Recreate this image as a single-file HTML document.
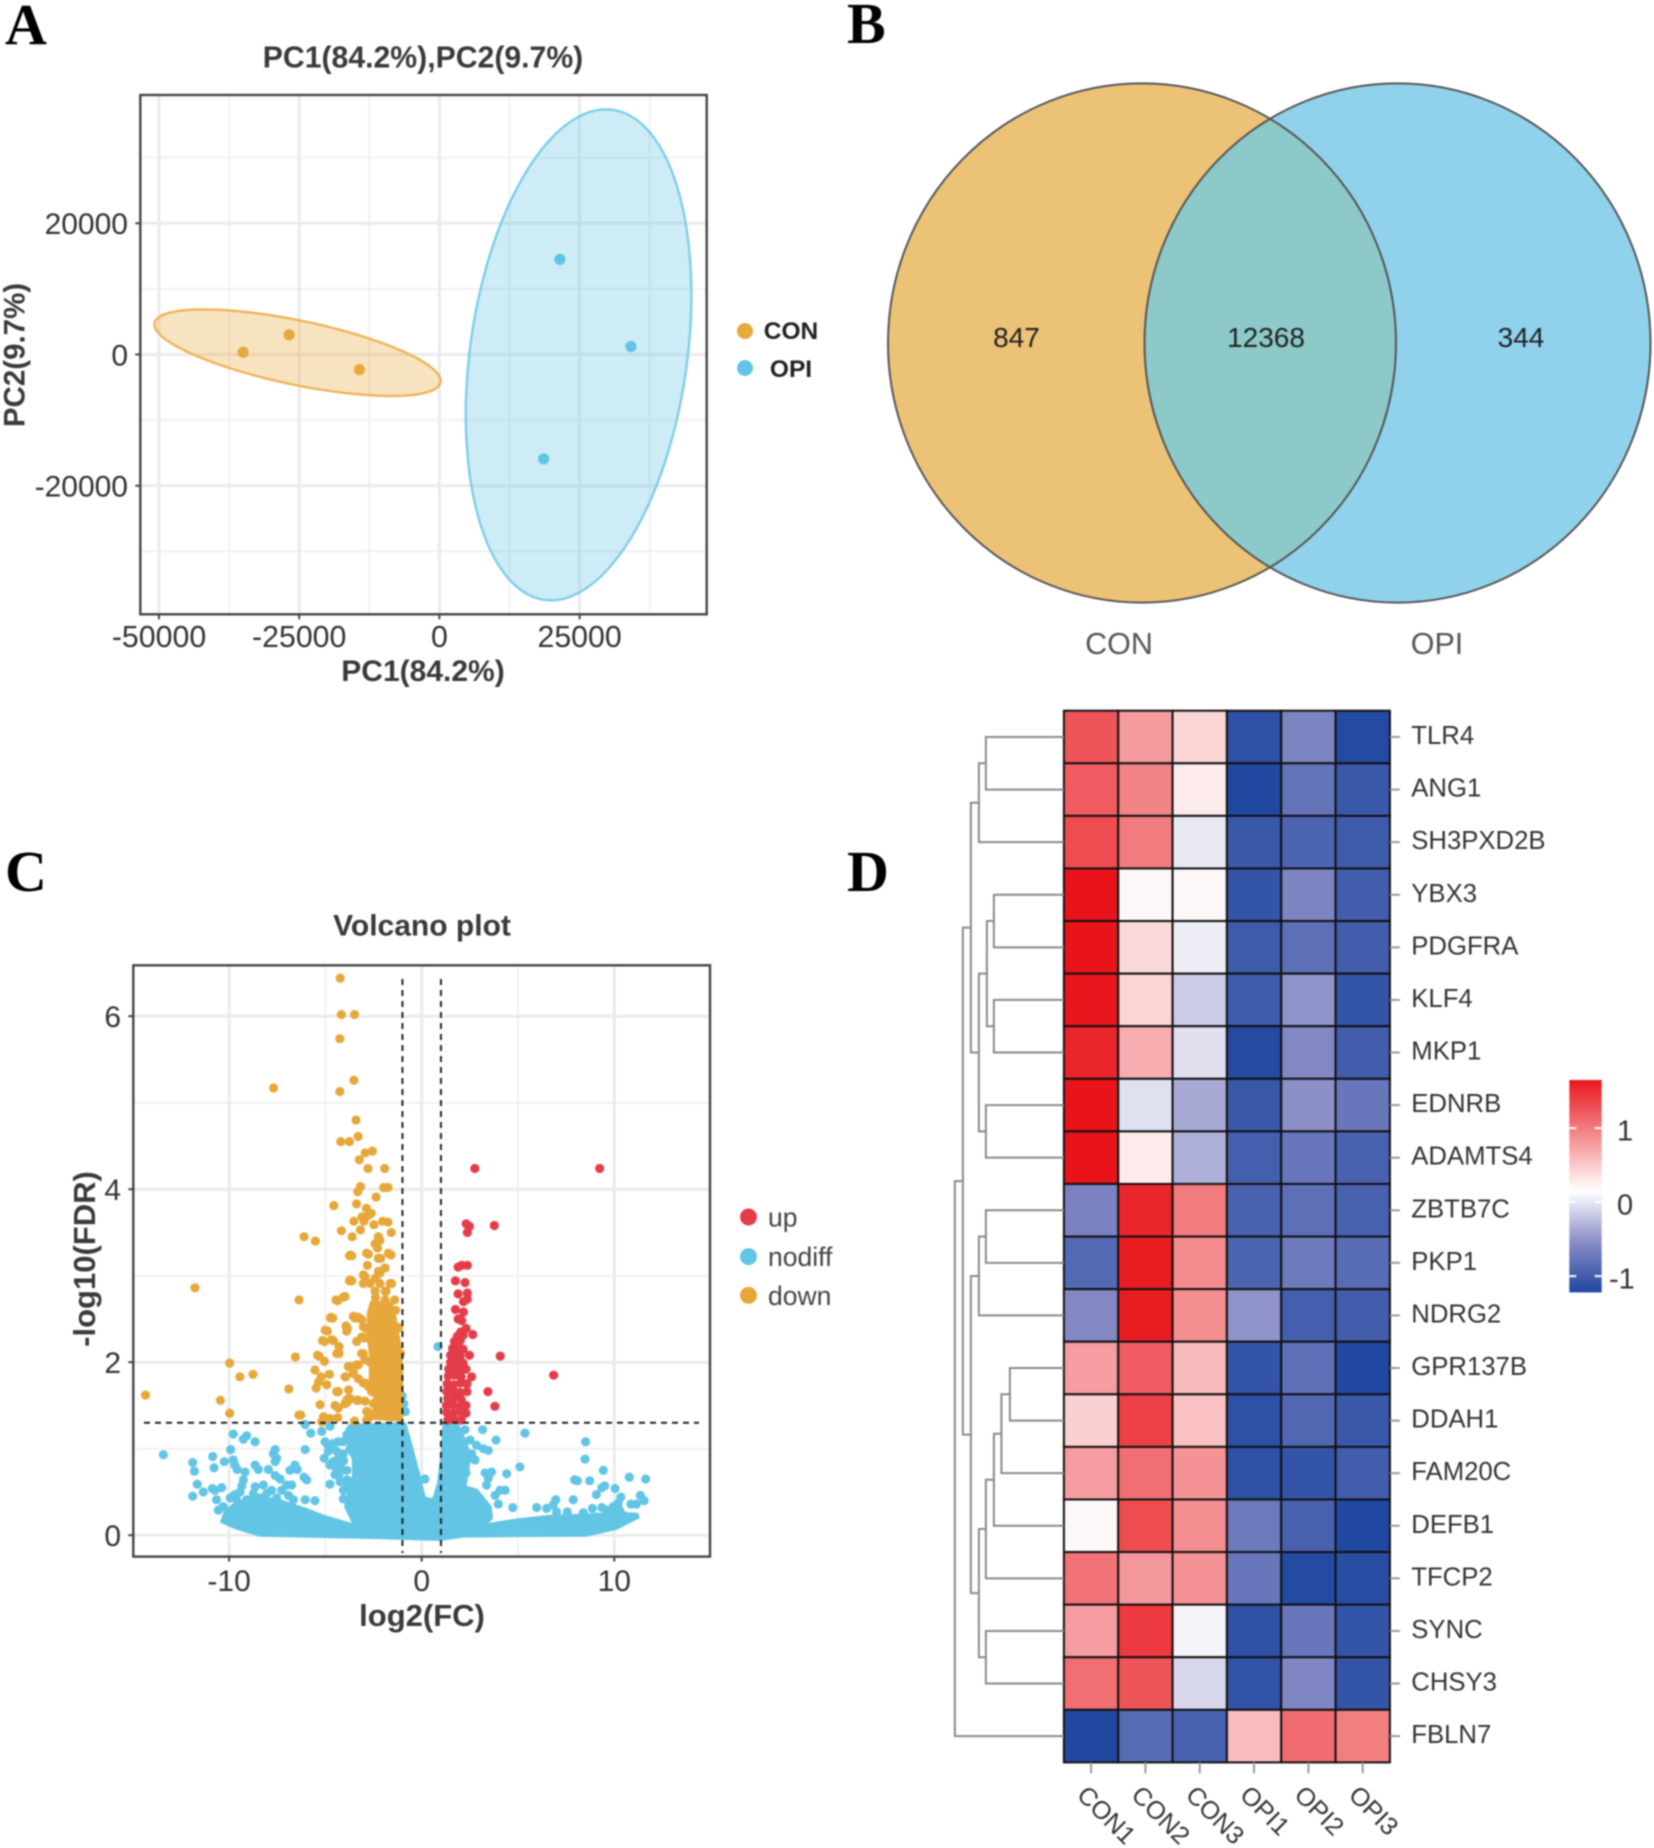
<!DOCTYPE html>
<html lang="en">
<head>
<meta charset="utf-8">
<title>Transcriptome figure: PCA, Venn, volcano, heatmap</title>
<style>
html,body{margin:0;padding:0;background:#fff;}
#figure{display:block;width:1654px;height:1848px;filter:blur(0.8px);font-family:"Liberation Sans",sans-serif;}
</style>
</head>
<body>
<svg id="figure" xmlns="http://www.w3.org/2000/svg" width="1654" height="1848" viewBox="0 0 1654 1848">
<rect x="0" y="0" width="1654" height="1848" fill="#fff"/>
<g font-family="'Liberation Serif',serif" font-weight="bold" font-size="58" fill="#000">
<text x="5" y="44">A</text>
<text x="847" y="43">B</text>
<text x="5" y="891">C</text>
<text x="847" y="891">D</text>
</g>
<g id="panel-pca"></g>
<g id="panel-venn">
<defs><clipPath id="venn-clip"><ellipse cx="1142" cy="343" rx="254" ry="259.6"/></clipPath></defs>
<ellipse cx="1142" cy="343" rx="254" ry="259.6" fill="#ECC277"/>
<ellipse cx="1397.5" cy="343" rx="253" ry="259.6" fill="#90D2EB"/>
<ellipse cx="1397.5" cy="343" rx="253" ry="259.6" fill="#8CC9C8" clip-path="url(#venn-clip)"/>
<ellipse cx="1142" cy="343" rx="254" ry="259.6" fill="none" stroke="#555" stroke-width="2"/>
<ellipse cx="1397.5" cy="343" rx="253" ry="259.6" fill="none" stroke="#555" stroke-width="2"/>
</g>
<g id="panel-volcano"></g>
<g id="panel-heatmap"></g>
</svg>
<script>
/* ---------- PCA data ---------- */
const pcaXTicks = [-50000, -25000, 0, 25000];
const pcaYTicks = [-20000, 0, 20000];
const pcaXMinor = [-37500, -12500, 12500, 37500];
const pcaYMinor = [-30000, -10000, 10000, 30000];
const pcaConPoints = [[-35000, 340], [-26800, 2990], [-14250, -2310]];
const pcaOpiPoints = [[21500, 14490], [34150, 1220], [18580, -15920]];
/* centre x, centre y, half-width, half-height, correlation */
const pcaConEllipse = [-25300, 274, 25535, 6598, -0.654];
const pcaOpiEllipse = [24820, -50, 20114, 37410, 0.244];

/* ---------- Venn data ---------- */
const vennCounts = ["847", "12368", "344"];
const vennSets = ["CON", "OPI"];

/* ---------- Volcano data ---------- */
const volXTicks = [-10, 0, 10];
const volYTicks = [0, 2, 4, 6];
const volXMinor = [-5, 5];
const volYMinor = [1, 3, 5];
const volFcCut = [-1, 1];
const volFdrCut = [1.3];
const nodiffCore = [[-10.39,.156],[-10.21,.27],[-9.6,.38],[-8.8,.42],[-7.6,.42],[-6.84,.36],[-5.89,.29],[-5.11,.22],[-3.72,.13],[-3.52,.13],[-3.95,.33],[-3.81,.48],[-4,.58],[-3.55,.67],[-3.55,.87],[-3.81,1.06],[-3.89,1.22],[-3.72,1.27],[-.87,1.29],[-.48,.98],[-.17,.72],[.14,.43],[.61,.41],[.87,.6],[1.07,.98],[1.16,1.29],[1.82,1.29],[2.25,1.1],[2.51,.91],[2.25,.56],[2.86,.52],[3.55,.33],[3.63,.2],[3.29,.118],[4.93,.176],[6.66,.22],[8.22,.23],[9.95,.25],[11.16,.245],[11.25,.21],[10.12,.08],[8.57,0],[2.16,-.01],[.95,-.05],[-2,-.03],[-8.4,0],[-9.6,.08]];
const downCore = [[-2.54,1.35],[-2.42,1.56],[-2.68,1.79],[-2.65,2.06],[-2.77,2.29],[-2.77,2.57],[-2.6,2.7],[-1.56,2.68],[-1.39,2.53],[-1.18,2.26],[-1.04,1.95],[-1.04,1.33]];
const nodiffPoints = [[.85,2.18],[-1.01,1.61],[-.93,1.52],[-.85,1.43],
[-9.78,1.17],[-9.26,1.11],[-9.09,1.15],[-8.65,1.08],[-9.92,.99],[-10.85,.91],[-10.25,.85],[-9.78,.87],[-9.7,.81],[-9.58,.76],[-10.78,.78],[-11.89,.84],[-11.8,.74],[-11.65,.59],[-11.34,.5],[-11.89,.45],[-10.87,.54],[-10.73,.52],[-10.38,.55],[-9.17,.73],[-9.26,.64],[-9.34,.57],[-9.43,.5],[-9.7,.47],[-9.95,.43],[-10.65,.41],[-10.3,.33],[-10.56,.29],[-8.65,.81],[-8.48,.76],[-7.96,.76],[-7.61,.99],[-7.7,.94],[-7.53,.89],[-7.61,.85],[-7.61,.69],[-7.35,.65],[-6.84,.75],[-6.58,.81],[-6.46,.76],[-6.11,.67],[-5.97,.64],[-7.01,.58],[-6.75,.58],[-8.65,.56],[-8.22,.58],[-7.79,.52],[-7.27,.52],[-8.05,.48],[-8.39,.43],[-8.74,.48],[-9.09,.41],[-9.61,.41],[-7.53,.43],[-6.92,.46],[-6.66,.41],[-6.05,.41],[-5.54,.4],[-6.05,.99],[-5.06,.89],[-6.05,1.28],[-5.76,1.18],[-5.19,1.2],[-4.76,1.26],
[-5.02,1.08],[-4.76,1.02],[-4.41,.97],[-4.07,1.08],[-3.89,1.16],[-3.55,.95],[-4.59,.85],[-4.24,.79],[-4.5,.7],[-4.76,.59],[-4.24,.62],[-4.07,.52],[-4.07,.42],[-4.93,1.06],[-4.59,1.06],[-3.72,1],[-4.41,.87],[-4.85,.97],[-4.33,1.08],[-4.07,.94],[-4.41,.75],[-4.76,.81],[-3.89,.75],[-3.89,.64],[-4.3,.7],[-4.05,.86],
[2.25,1.22],[3.16,1.22],[3.86,1.1],[5.36,1.18],[5.1,.79],[4.41,.71],[2.51,1.1],[2.85,1.04],[3.2,1],[3.46,.98],[2.6,.94],[2.77,.87],[3.29,.72],[3.63,.73],[3.46,.66],[3.37,.58],[4.07,.52],[4.33,.52],[3.81,.46],[3.98,.36],[4.73,.32],[2.3,.72],[.17,.65],
[8.51,1.08],[8.48,.88],[9.43,.75],[7.94,.64],[8.08,.63],[8.72,.63],[9.5,.57],[9.35,.55],[10.78,.67],[11.63,.65],[10.04,.54],[9.07,.47],[10.34,.44],[11.35,.46],[11.55,.4],[10.86,.36],[11.15,.36],[7.87,.41],[6.96,.41],[6.83,.35],[5.97,.32],[6.49,.31],[7.56,.27],[8.39,.26],[8.86,.31],[9.35,.32],[9.6,.29],[9.95,.33],[10.2,.37],[7,.27],[9.07,.21],[9.85,.27],[10.47,.23],[10.27,.29],[-13.41,.93]];
const upPoints = [[2.76,4.24],[9.24,4.24],[2.31,3.6],[2.48,3.57],[2.37,3.5],[3.77,3.58],[1.89,3.1],[2.08,3.12],[2.37,3.12],[1.75,2.94],[2.25,2.92],[1.89,2.79],[2.37,2.8],[2.17,2.7],[2.37,2.73],[1.75,2.61],[2.17,2.58],[1.89,2.5],[2.08,2.48],[2.65,2.32],[2.31,2.39],[2.03,2.35],[4.08,2.07],[2.48,2.08],[6.85,1.85],[2.59,1.83],[3.44,1.66],[3.8,1.49],
[1.35,1.33],[1.7,1.34],[2.05,1.33],[1.3,1.42],[1.65,1.41],[2,1.43],[2.3,1.41],[1.28,1.5],[1.6,1.51],[1.95,1.49],[2.3,1.5],[1.35,1.58],[1.7,1.59],[2.05,1.57],[1.3,1.66],[1.65,1.67],[2,1.65],[2.35,1.66],[1.32,1.75],[1.65,1.74],[2,1.76],[2.35,1.75],[1.38,1.84],[1.7,1.85],[2.05,1.83],[1.4,1.92],[1.75,1.93],[2.1,1.91],[2.3,1.92],[1.5,2],[1.85,2.01],[2.15,1.99],[1.5,2.08],[1.85,2.09],[2,2.07],[1.6,2.16],[1.9,2.17],[2.15,2.15],[1.7,2.24],[2,2.25],[1.85,2.3],[2.15,2.31]];
const downPoints = [[-4.23,6.44],[-4.17,6.02],[-3.49,6.02],[-4.25,5.74],[-3.52,5.26],[-4.25,5.13],[-7.69,5.17],[-3.41,4.8],[-3.3,4.61],[-4.2,4.55],[-3.75,4.55],[-2.93,4.42],[-2.56,4.44],[-3.24,4.34],[-2.79,4.24],[-1.92,4.24],[-3.18,4.03],[-3.32,3.97],[-1.97,4.02],[-1.75,4.02],[-2.37,3.91],[-4.56,3.81],[-3.38,3.83],[-2.87,3.78],[-3.1,3.68],[-2.76,3.7],[-2.62,3.72],[-3.52,3.63],[-2.99,3.63],[-2.03,3.63],[-1.75,3.62],[-2.48,3.59],[-4.17,3.52],[-3.18,3.53],[-1.58,3.5],[-3.61,3.45],[-6.11,3.45],[-5.52,3.4],
[-11.77,2.86],[-6.37,2.72],[-4.45,2.72],[-4.08,2.75],[-3.75,2.94],[-3.75,3.23],[-4.73,2.51],[-5.01,2.37],[-5.15,2.25],[-4.68,2.26],[-5.41,2.08],[-6.56,2.06],[-9.97,1.99],[-8.76,1.86],[-9.44,1.83],[-14.34,1.62],[-10.45,1.56],[-9.97,1.41],[-6.9,1.69],[-6.37,1.39],
[-4.62,2.51],[-4.9,2.36],[-5.05,2.24],[-4.58,2.25],[-4.29,2.18],[-4.41,2.1],[-4.29,2.1],[-5.33,2.07],[-5.05,2.01],[-5.54,1.91],[-5.22,1.83],[-4.79,1.86],[-5.36,1.77],[-5.48,1.7],[-4.93,1.74],[-3.94,1.83],[-4.33,1.66],[-3.8,1.58],[-3.86,1.54],[-5.28,1.51],[-4.5,1.5],[-4.33,1.47],[-6.28,1.39],[-5.1,1.37],[-4.76,1.35],[-4.36,1.36],[-5.19,1.31],[-3.49,1.32],[-2.77,1.42],[-2.77,1.35],
[-3.81,1.95],[-3.29,1.97],[-3.55,1.89],[-3.29,1.81],[-2.94,1.76],[-2.6,1.66],[-3.37,1.56],[-2.94,1.55],[-2.51,1.52],[-3.46,2.51],[-3.11,2.49],[-2.89,2.39],[-2.94,2.28],[-3.37,2.24],[-3.86,2.39],[-3.03,2.1],[-2.68,2],
[-3.63,3.23],[-2.77,3.25],[-2.13,3.2],[-1.59,3.24],[-2.94,2.99],[-2.25,3.05],[-1.56,2.91],[-3.63,2.94],[-2.42,2.82],[-1.85,2.82],[-4.36,2.71],[-3.98,2.76],
[-2.25,3.45],[-2.42,3.37],[-2.17,3.41],[-2.29,3.32],[-2.25,3.2],[-2.86,3.26],[-1.73,3.26],[-3.7,3.24],[-2.82,3.12],[-3.03,3.01],[-1.9,3.09],[-2.17,3.03],[-2.42,2.97],[-2.17,2.91],[-3.03,2.91],[-2.68,2.91],[-1.9,2.82],[-1.64,2.91],[-3.72,2.95],
[-3.55,2.53],[-3.29,2.52],[-3.03,2.41],[-3.12,2.29],[-3.37,2.24],[-3.93,2.42],[-3.9,2.36],[-4.71,2.52],[-3.12,2.1],[-2.94,2.03],[-2.51,2.05],[-3.72,1.95],[-3.37,1.97],[-3.55,1.87],[-3.98,1.83],[-3.03,1.76],[-2.77,1.72],[-4.41,1.66],[-3.8,1.68],[-3.29,1.56],[-3.98,1.52],[-3.72,1.58],[-3.9,1.56],[-2.86,1.43],[-2.86,1.33],[-1.35,2.6],[-1.2,2.4],[-1.1,2.1],[-1.9,2.72],[-2.4,2.75],[-1.4,2.72]];
const volLegend = ["up", "nodiff", "down"];

/* ---------- Heatmap data ---------- */
const geneLabels = ["TLR4","ANG1","SH3PXD2B","YBX3","PDGFRA","KLF4","MKP1","EDNRB","ADAMTS4","ZBTB7C","PKP1","NDRG2","GPR137B","DDAH1","FAM20C","DEFB1","TFCP2","SYNC","CHSY3","FBLN7"];
const sampleLabels = ["CON1","CON2","CON3","OPI1","OPI2","OPI3"];
const heatValues = [
[1.25,.8,.42,-1.12,-.62,-1.18],
[1.2,.95,.28,-1.2,-.78,-1.05],
[1.3,1,.02,-1.05,-.92,-1.02],
[1.67,.2,.2,-1.08,-.62,-1],
[1.67,.4,.05,-1.02,-.82,-1],
[1.65,.42,-.16,-1.02,-.5,-1.08],
[1.55,.68,-.04,-1.18,-.58,-1],
[1.67,-.03,-.36,-1.05,-.52,-.75],
[1.67,.28,-.32,-.98,-.75,-.95],
[-.64,1.55,1,-.95,-.82,-.95],
[-.88,1.62,.9,-.92,-.72,-.85],
[-.58,1.62,.88,-.5,-.98,-1],
[.78,1.2,.6,-1.08,-.82,-1.2],
[.45,1.38,.55,-1.12,-.9,-1.05],
[.78,1.08,.85,-1.12,-1.08,-1],
[.2,1.3,.88,-.72,-.96,-1.2],
[1.05,.82,.85,-.75,-1.18,-1.15],
[.78,1.42,.08,-1.12,-.75,-1.08],
[1.08,1.25,-.08,-1.1,-.6,-1.08],
[-1.2,-.86,-.96,.58,1.1,.98]];
const colorbarTicks = [1, 0, -1];
const colorbarRange = [-1.22, 1.65];
/* child a, child b, merge height; ids of 100+k refer to merge k */
const dendroMerges = [[0,1,78],[100,2,85],[3,4,70],[5,6,70],[102,103,77],[7,8,78],[104,105,85],[101,106,93],[9,10,78],[108,11,85],[12,13,54],[110,14,62.5],[111,15,70],[112,16,78],[17,18,78],[113,114,85],[109,115,93],[107,116,101],[117,19,109]];

/* ---------- helpers ---------- */
const NS = "http://www.w3.org/2000/svg";
function make(parent, tag, attrs) {
  const el = document.createElementNS(NS, tag);
  for (const k in attrs) el.setAttribute(k, attrs[k]);
  parent.appendChild(el);
  return el;
}
function label(parent, str, cx, cy, fs, opts, name) {
  const o = opts || {};
  const rot = o.rot || 0;
  const el = make(parent, "text", {
    transform: "translate(" + cx + "," + cy + ") rotate(" + rot + ")",
    x: 0, y: fs * 0.36,
    "font-size": fs,
    "font-weight": o.bold ? "bold" : "normal",
    "text-anchor": o.anchor || "middle",
    fill: o.fill || "#333"
  });
  el.textContent = str;
  
  
  return el;
}
function line(parent, x1, y1, x2, y2, stroke, w, name, dash) {
  const a = {x1: x1, y1: y1, x2: x2, y2: y2, stroke: stroke, "stroke-width": w};
  if (dash) a["stroke-dasharray"] = dash;
  const el = make(parent, "line", a);
  
  
  return el;
}
function dots(parent, pts, sx, sy, r, fill, name) {
  pts.forEach(function (p) {
    const el = make(parent, "circle", {cx: sx(p[0]), cy: sy(p[1]), r: r, fill: fill});
    
    
  });
}
function frame(parent, l, t, r, b, name) {
  const el = make(parent, "rect", {x: l, y: t, width: r - l, height: b - t, fill: "none", stroke: "#444", "stroke-width": 2.4});
  
  
}
function ellipsePath(e, sx, sy) {
  let d = "";
  for (let i = 0; i <= 120; i++) {
    const t = i / 120 * 2 * Math.PI;
    const vx = e[0] + e[2] * Math.cos(t);
    const vy = e[1] + e[3] * (e[4] * Math.cos(t) + Math.sqrt(1 - e[4] * e[4]) * Math.sin(t));
    d += (i ? "L" : "M") + sx(vx).toFixed(1) + " " + sy(vy).toFixed(1);
  }
  return d + "Z";
}

/* ---------- PCA ---------- */
(function () {
  const g = document.getElementById("panel-pca");
  const L = 140.3, R = 706.7, T = 95, B = 614.3;
  const sx = function (v) { return 439.4 + v * 140.2 / 25000; };
  const sy = function (v) { return 354.5 - v * 131.25 / 20000; };
  pcaXMinor.forEach(function (v) { line(g, sx(v), T, sx(v), B, "#f1f1f1", 2, "pca-x-minor-gridline"); });
  pcaYMinor.forEach(function (v) { line(g, L, sy(v), R, sy(v), "#f1f1f1", 2, "pca-y-minor-gridline"); });
  pcaXTicks.forEach(function (v) { line(g, sx(v), T, sx(v), B, "#ebebeb", 3, "pca-x-major-gridline"); });
  pcaYTicks.forEach(function (v) { line(g, L, sy(v), R, sy(v), "#ebebeb", 3, "pca-y-major-gridline"); });
  const e1 = make(g, "path", {d: ellipsePath(pcaConEllipse, sx, sy), fill: "#E8A93C", "fill-opacity": .32, stroke: "#EDB458", "stroke-width": 2.4});
  
  
  const e2 = make(g, "path", {d: ellipsePath(pcaOpiEllipse, sx, sy), fill: "#62C4E4", "fill-opacity": .32, stroke: "#7FCDE8", "stroke-width": 2.4});
  
  
  dots(g, pcaConPoints, sx, sy, 5.6, "#E8A93C", "pca-point-con");
  dots(g, pcaOpiPoints, sx, sy, 5.6, "#62C4E4", "pca-point-opi");
  frame(g, L, T, R, B, "pca-plot-frame");
  pcaXTicks.forEach(function (v) {
    line(g, sx(v), B, sx(v), B + 5, "#444", 2, "pca-x-tick");
    label(g, String(v), sx(v), 636, 30.3, {}, "pca-x-tick-label");
  });
  pcaYTicks.forEach(function (v) {
    line(g, L - 5, sy(v), L, sy(v), "#444", 2, "pca-y-tick");
    label(g, String(v), 128, sy(v), 30, {anchor: "end"}, "pca-y-tick-label");
  });
  label(g, "PC1(84.2%),PC2(9.7%)", 423, 56.5, 30.2, {bold: true, fill: "#3a3a3a"}, "pca-title");
  label(g, "PC1(84.2%)", 423, 670, 30, {bold: true, fill: "#3a3a3a"}, "pca-x-axis-title");
  label(g, "PC2(9.7%)", 14, 355, 29.5, {bold: true, rot: -90, fill: "#3a3a3a"}, "pca-y-axis-title");
  const lg1 = make(g, "circle", {cx: 745, cy: 331, r: 8, fill: "#E8A93C"});
  
  
  const lg2 = make(g, "circle", {cx: 745, cy: 368, r: 8, fill: "#62C4E4"});
  
  
  label(g, "CON", 791, 330, 24.5, {bold: true, fill: "#222"}, "pca-legend-label-con");
  label(g, "OPI", 791, 368, 24.5, {bold: true, fill: "#222"}, "pca-legend-label-opi");
})();

/* ---------- Venn ---------- */
(function () {
  const g = document.getElementById("panel-venn");
  const countX = [1016.5, 1266, 1521];
  vennCounts.forEach(function (c, i) { label(g, c, countX[i], 337, 28, {fill: "#222"}, "venn-count-label"); });
  const setX = [1119, 1437];
  vennSets.forEach(function (c, i) { label(g, c, setX[i], 643, 30.5, {fill: "#555"}, "venn-set-label"); });
})();

/* ---------- Volcano ---------- */
(function () {
  const g = document.getElementById("panel-volcano");
  const L = 133.3, R = 710, T = 965.3, B = 1556.6;
  const sx = function (v) { return 421.7 + v * 19.26; };
  const sy = function (v) { return 1535.2 - v * 86.5; };
  volXMinor.forEach(function (v) { line(g, sx(v), T, sx(v), B, "#f1f1f1", 2, "volcano-x-minor-gridline"); });
  volYMinor.forEach(function (v) { line(g, L, sy(v), R, sy(v), "#f1f1f1", 2, "volcano-y-minor-gridline"); });
  volXTicks.forEach(function (v) { line(g, sx(v), T, sx(v), B, "#ebebeb", 3, "volcano-x-major-gridline"); });
  volYTicks.forEach(function (v) { line(g, L, sy(v), R, sy(v), "#ebebeb", 3, "volcano-y-major-gridline"); });
  const polyPath = function (pts) {
    return pts.map(function (p, i) { return (i ? "L" : "M") + sx(p[0]).toFixed(1) + " " + sy(p[1]).toFixed(1); }).join("") + "Z";
  };
  const nc = make(g, "path", {d: polyPath(nodiffCore), fill: "#62C5E5", stroke: "#62C5E5", "stroke-width": 3, "stroke-linejoin": "round"});
  
  
  dots(g, nodiffPoints, sx, sy, 4.6, "#62C5E5", "volcano-point-nodiff");
  const dc = make(g, "path", {d: polyPath(downCore), fill: "#E6A83A", stroke: "#E6A83A", "stroke-width": 3, "stroke-linejoin": "round"});
  
  
  dots(g, downPoints, sx, sy, 4.6, "#E6A83A", "volcano-point-down");
  dots(g, upPoints, sx, sy, 4.6, "#E43D4A", "volcano-point-up");
  volFcCut.forEach(function (v) { line(g, sx(v), 979, sx(v), 1553, "#222", 2, "volcano-fc-threshold-line", "6 5"); });
  volFdrCut.forEach(function (v) { line(g, 144, sy(v), 699, sy(v), "#222", 2, "volcano-fdr-threshold-line", "6 5"); });
  frame(g, L, T, R, B, "volcano-plot-frame");
  volXTicks.forEach(function (v) {
    line(g, sx(v), B, sx(v), B + 5, "#444", 2, "volcano-x-tick");
    label(g, String(v), sx(v), 1580, 30, {}, "volcano-x-tick-label");
  });
  volYTicks.forEach(function (v) {
    line(g, L - 5, sy(v), L, sy(v), "#444", 2, "volcano-y-tick");
    label(g, String(v), 121, sy(v), 30, {anchor: "end"}, "volcano-y-tick-label");
  });
  label(g, "Volcano plot", 422, 924.5, 30, {bold: true, fill: "#3a3a3a"}, "volcano-title");
  label(g, "log2(FC)", 422, 1615, 31, {bold: true, fill: "#3a3a3a"}, "volcano-x-axis-title");
  label(g, "-log10(FDR)", 84, 1259, 31, {bold: true, rot: -90, fill: "#3a3a3a"}, "volcano-y-axis-title");
  const legendY = [1217, 1256.6, 1295.4];
  const legendC = ["#E43D4A", "#62C5E5", "#E6A83A"];
  volLegend.forEach(function (t, i) {
    const c = make(g, "circle", {cx: 748.5, cy: legendY[i], r: 8.5, fill: legendC[i]});
    
    
    label(g, t, 768, legendY[i], 26.5, {anchor: "start", fill: "#444"}, "volcano-legend-label");
  });
})();

/* ---------- Heatmap ---------- */
(function () {
  const g = document.getElementById("panel-heatmap");
  const L = 1063.9, R = 1389.9, T = 710.7, B = 1762.4;
  const cw = (R - L) / sampleLabels.length, ch = (B - T) / geneLabels.length;
  const mix = function (a, b, t) {
    return [0, 1, 2].map(function (i) { return Math.round(a[i] + (b[i] - a[i]) * t); });
  };
  const color = function (v) {
    const mid = 0.15;
    let c;
    if (v >= mid) {
      const t = Math.min(1, (v - mid) / 1.52);
      c = t < .5 ? mix([255,255,255],[243,137,140],t*2) : mix([243,137,140],[232,20,26],(t-.5)*2);
    } else {
      const s = Math.min(1, (mid - v) / 1.35);
      c = s < .5 ? mix([255,255,255],[140,142,200],s*2) : mix([140,142,200],[33,72,160],(s-.5)*2);
    }
    return "rgb(" + c.join(",") + ")";
  };
  heatValues.forEach(function (row, r) {
    row.forEach(function (v, c) {
      const el = make(g, "rect", {x: L + c * cw, y: T + r * ch, width: cw, height: ch, fill: color(v), stroke: "#111", "stroke-width": 2});
      
      
    });
  });
  geneLabels.forEach(function (t, r) {
    const y = T + (r + .5) * ch;
    line(g, R, y, R + 10, y, "#999", 2, "heatmap-row-tick");
    label(g, t, 1411.3, y - 2.2, 25.7, {anchor: "start"}, "heatmap-gene-label");
  });
  sampleLabels.forEach(function (t, c) {
    const x = L + (c + .5) * cw;
    line(g, x, B, x, B + 11, "#999", 2, "heatmap-column-tick");
    label(g, t, x - 9, 1790, 25.2, {anchor: "start", rot: 45}, "heatmap-sample-label");
  });
  /* dendrogram */
  const pos = {};
  const rowY = function (id) { return id < 100 ? T + (id + .5) * ch : pos[id]; };
  const nodeX = function (id) { return id < 100 ? L : L - dendroMerges[id - 100][2]; };
  dendroMerges.forEach(function (m, k) {
    const ya = rowY(m[0]), yb = rowY(m[1]), x = L - m[2];
    pos[100 + k] = (ya + yb) / 2;
    const el = make(g, "path", {d: "M" + nodeX(m[0]) + " " + ya + "H" + x + "V" + yb + "H" + nodeX(m[1]), fill: "none", stroke: "#8a8a8a", "stroke-width": 2});
    
    
  });
  /* colour bar */
  const cbL = 1569.3, cbR = 1601.7, cbT = 1080, cbB = 1292.4;
  const cbY = function (v) { return cbB - (v - colorbarRange[0]) / (colorbarRange[1] - colorbarRange[0]) * (cbB - cbT); };
  const defs = make(g, "defs", {});
  const grad = make(defs, "linearGradient", {id: "cb-grad", x1: 0, y1: 1, x2: 0, y2: 0});
  for (let i = 0; i <= 40; i++) {
    const v = colorbarRange[0] + (colorbarRange[1] - colorbarRange[0]) * i / 40;
    make(grad, "stop", {offset: i / 40, "stop-color": color(v)});
  }
  const bar = make(g, "rect", {x: cbL, y: cbT, width: cbR - cbL, height: cbB - cbT, fill: "url(#cb-grad)"});
  
  
  colorbarTicks.forEach(function (v) {
    line(g, cbL, cbY(v), cbL + 7, cbY(v), "#fff", 2, "colorbar-tick-left");
    line(g, cbR - 7, cbY(v), cbR, cbY(v), "#fff", 2, "colorbar-tick-right");
    label(g, String(v), v < 0 ? 1609 : 1617, cbY(v) + 2, 29, {anchor: "start", fill: "#333"}, "colorbar-tick-label");
  });
})();
</script>
</body>
</html>
